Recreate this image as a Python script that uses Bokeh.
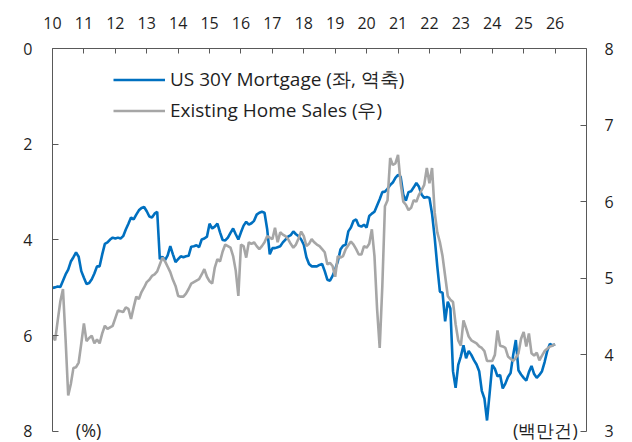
import numpy as np
from bokeh.plotting import figure
from bokeh.models import Range1d, LinearAxis, FixedTicker, Legend, LegendItem, Label
from bokeh.embed import file_html
from bokeh.resources import INLINE

# ---- data (monthly, Jan 2010 .. Jan 2026) ----
start_year = 2010
year_ticks = list(range(2010, 2027))
year_labels = ["10", "11", "12", "13", "14", "15", "16", "17", "18",
               "19", "20", "21", "22", "23", "24", "25", "26"]
left_ticks = [0, 2, 4, 6, 8]
right_ticks = [3, 4, 5, 6, 7, 8]

mortgage_30y = [
    # 2010
    5.00, 4.99, 4.97, 4.98, 4.85, 4.72, 4.62, 4.45, 4.36, 4.26, 4.35, 4.65,
    # 2011
    4.79, 4.92, 4.90, 4.82, 4.70, 4.55, 4.55, 4.30, 4.08, 4.05, 3.99, 3.95,
    # 2012
    3.97, 3.95, 3.97, 3.92, 3.78, 3.66, 3.53, 3.57, 3.47, 3.38, 3.33, 3.31,
    # 2013
    3.40, 3.51, 3.53, 3.45, 3.41, 4.40, 4.35, 4.42, 4.32, 4.13, 4.30, 4.46,
    # 2014
    4.40, 4.34, 4.36, 4.34, 4.33, 4.14, 4.13, 4.11, 4.15, 3.99, 3.97, 3.93,
    # 2015
    3.66, 3.76, 3.72, 3.66, 3.84, 4.00, 4.01, 3.95, 3.85, 3.76, 3.88, 3.99,
    # 2016
    3.84, 3.70, 3.62, 3.68, 3.65, 3.60, 3.47, 3.43, 3.41, 3.43, 3.77, 4.30,
    # 2017
    4.17, 4.17, 4.15, 4.13, 4.05, 3.99, 3.93, 3.90, 3.82, 3.88, 3.92, 3.99,
    # 2018
    4.10, 4.36, 4.50, 4.55, 4.55, 4.55, 4.52, 4.50, 4.65, 4.83, 4.85, 4.75,
    # 2019
    4.61, 4.45, 4.20, 4.12, 4.10, 3.82, 3.74, 3.60, 3.57, 3.70, 3.72, 3.68,
    # 2020
    3.74, 3.50, 3.45, 3.41, 3.28, 3.15, 3.00, 2.99, 2.93, 2.85, 2.80, 2.70,
    # 2021
    2.64, 2.68, 3.05, 3.18, 3.00, 2.98, 2.90, 2.81, 2.89, 3.05, 3.12, 3.10,
    # 2022
    3.12, 3.45, 3.95, 4.55, 5.08, 5.10, 5.70, 5.29, 5.43, 6.74, 7.09, 6.61,
    # 2023
    6.43, 6.20, 6.47, 6.32, 6.40, 6.51, 6.60, 6.74, 7.15, 7.31, 7.77, 7.20,
    # 2024
    6.61, 6.69, 6.85, 6.82, 7.10, 7.00, 6.86, 6.78, 6.40, 6.09, 6.72, 6.81,
    # 2025
    6.88, 6.94, 6.76, 6.63, 6.80, 6.88, 6.82, 6.74, 6.55, 6.32, 6.17, 6.20,
    # 2026
    6.18,
]

home_sales = [
    # 2010
    4.25, 4.19, 4.45, 4.70, 4.86, 4.20, 3.47, 3.62, 3.83, 3.84, 3.90, 4.15,
    # 2011
    4.41, 4.18, 4.22, 4.25, 4.15, 4.20, 4.15, 4.28, 4.38, 4.34, 4.36, 4.38,
    # 2012
    4.48, 4.58, 4.57, 4.56, 4.62, 4.60, 4.47, 4.62, 4.76, 4.73, 4.82, 4.88,
    # 2013
    4.95, 4.98, 5.03, 5.05, 5.09, 5.18, 5.27, 5.22, 5.15, 5.08, 4.98, 4.90,
    # 2014
    4.77, 4.76, 4.76, 4.80, 4.86, 4.93, 4.95, 4.97, 4.99, 5.05, 5.12, 5.02,
    # 2015
    4.96, 4.93, 5.14, 5.25, 5.22, 5.35, 5.44, 5.42, 5.40, 5.29, 5.10, 4.77,
    # 2016
    5.44, 5.42, 5.27, 5.47, 5.45, 5.47, 5.42, 5.38, 5.42, 5.47, 5.55, 5.53,
    # 2017
    5.51, 5.66, 5.47, 5.60, 5.57, 5.55, 5.51, 5.45, 5.40, 5.44, 5.52, 5.61,
    # 2018
    5.55, 5.42, 5.45, 5.51, 5.47, 5.44, 5.42, 5.38, 5.34, 5.18, 5.20, 5.16,
    # 2019
    5.02, 5.29, 5.27, 5.29, 5.38, 5.43, 5.48, 5.44, 5.38, 5.31, 5.31, 5.42,
    # 2020
    5.40, 5.45, 5.64, 5.29, 4.60, 4.09, 4.90, 5.94, 6.02, 6.57, 6.48, 6.50,
    # 2021
    6.61, 6.24, 6.00, 5.96, 5.89, 5.92, 6.02, 6.00, 6.09, 6.15, 6.22, 6.44,
    # 2022
    6.24, 6.44, 5.86, 5.60, 5.47, 5.29, 5.03, 4.77, 4.72, 4.69, 4.40, 4.19,
    # 2023
    4.12, 4.45, 4.35, 4.24, 4.19, 4.17, 4.15, 4.11, 4.09, 4.05, 3.92, 3.92,
    # 2024
    3.92, 4.00, 4.32, 4.12, 4.11, 4.09, 3.98, 3.95, 3.92, 3.96, 4.02, 4.21,
    # 2025
    4.30, 4.11, 4.28, 4.02, 3.99, 4.03, 3.93, 3.99, 4.05, 4.08, 4.11, 4.12,
    # 2026
    4.14,
]

x_years = start_year + np.arange(len(mortgage_30y)) / 12.0

NUM_FONT = "Open Sans"
AX = "#595959"
TXT = "#1f1f1f"
BLUE = "#0070C0"
GRAY = "#A6A6A6"

# frame runs to the bottom edge; axes are bounded so the lines stop at 8 / 3
p = figure(width=632, height=442, output_backend="svg", toolbar_location=None,
           x_range=Range1d(2010, 2027), y_range=Range1d(8.23, 0),
           x_axis_location=None, y_axis_location=None,
           min_border_left=52, min_border_right=46, min_border_top=48,
           min_border_bottom=0)
p.outline_line_color = None
p.xgrid.grid_line_color = None
p.ygrid.grid_line_color = None
p.extra_y_ranges = {"sales": Range1d(2.856, 8)}

top_axis = LinearAxis(
    ticker=FixedTicker(ticks=year_ticks, minor_ticks=[]),
    major_label_overrides={t: l for t, l in zip(year_ticks, year_labels)},
    major_tick_in=5, major_tick_out=0, minor_tick_in=0, minor_tick_out=0,
    axis_line_color=AX, major_tick_line_color=AX,
    major_label_standoff=20,
    major_label_text_font=NUM_FONT, major_label_text_font_size="16px",
    major_label_text_color=TXT)
p.add_layout(top_axis, "above")

left_axis = LinearAxis(
    ticker=FixedTicker(ticks=left_ticks, minor_ticks=[]), bounds=(0, 8),
    major_tick_in=6, major_tick_out=0, minor_tick_in=0, minor_tick_out=0,
    axis_line_color=AX, major_tick_line_color=AX,
    major_label_standoff=20,
    major_label_text_font=NUM_FONT, major_label_text_font_size="16px",
    major_label_text_color=TXT)
p.add_layout(left_axis, "left")

right_axis = LinearAxis(
    y_range_name="sales",
    ticker=FixedTicker(ticks=right_ticks, minor_ticks=[]), bounds=(3, 8),
    major_tick_in=6, major_tick_out=0, minor_tick_in=0, minor_tick_out=0,
    axis_line_color=AX, major_tick_line_color=AX,
    major_label_standoff=18,
    major_label_text_font=NUM_FONT, major_label_text_font_size="16px",
    major_label_text_color=TXT)
p.add_layout(right_axis, "right")

rb = p.line(x_years, mortgage_30y, line_color=BLUE, line_width=2.6)
rg = p.line(x_years, home_sales, line_color=GRAY, line_width=2.6, y_range_name="sales")

legend = Legend(items=[LegendItem(label="US 30Y Mortgage (좌, 역축)", renderers=[rb]),
                       LegendItem(label="Existing Home Sales (우)", renderers=[rg])],
                location=(61, 318), label_text_font=NUM_FONT, label_text_font_size="19px",
                label_text_color=TXT, glyph_width=52, glyph_height=21, label_height=21,
                spacing=4, padding=0, margin=0, label_standoff=5,
                border_line_alpha=0, background_fill_alpha=0)
p.add_layout(legend)

p.add_layout(Label(x=2011.15, y=7.97, text="(%)", text_align="center",
                   text_baseline="middle", text_font=NUM_FONT, text_font_size="18px",
                   text_color=TXT))
p.add_layout(Label(x=2026.72, y=7.97, text="(백만건)", text_align="right",
                   text_baseline="middle", text_font=NUM_FONT, text_font_size="18px",
                   text_color=TXT))

open("out.html", "w").write(file_html(p, INLINE))
